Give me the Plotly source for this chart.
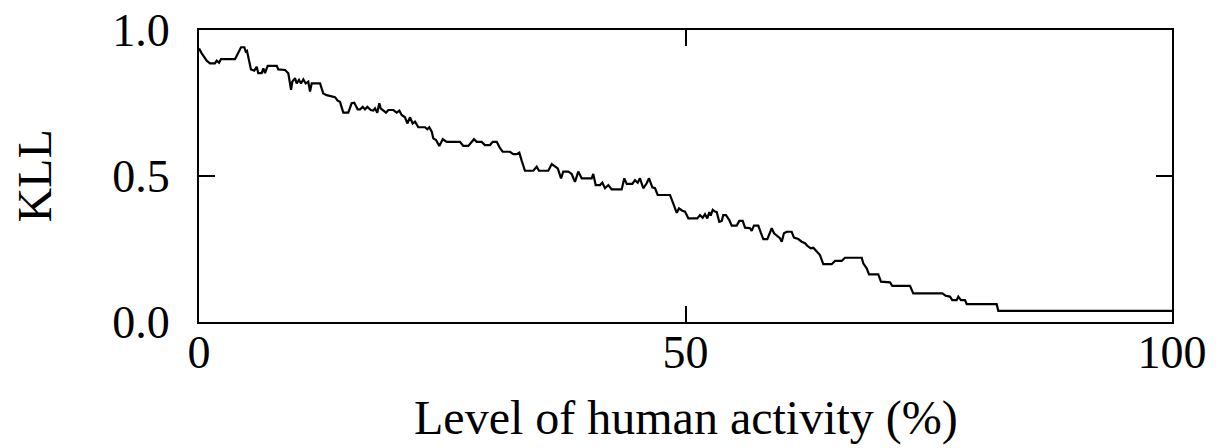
import plotly.graph_objects as go

# Level of human activity (%)
activity = [
    0.00, 0.28, 0.79, 1.13, 1.64, 1.82, 2.06, 2.26, 3.70, 4.04, 4.32, 4.66, 4.80, 4.93, 5.14, 5.34,
    5.68, 5.93, 6.09, 6.44, 6.61, 6.78, 7.06, 7.99, 8.15, 8.84, 9.18, 9.46, 9.59, 9.87, 10.04, 10.28,
    10.48, 10.72, 10.97, 11.23, 11.41, 11.58, 12.44, 12.77, 13.12, 13.64, 13.98, 14.25, 14.49, 14.83,
    15.34, 15.69, 15.96, 16.31, 16.55, 16.82, 17.06, 17.30, 17.65, 17.91, 18.09, 18.32, 18.53, 18.67,
    18.94, 19.22, 19.46, 19.97, 20.32, 20.59, 20.83, 21.17, 21.41, 21.69, 21.96, 22.20, 22.54, 23.23,
    23.46, 23.67, 23.92, 24.08, 24.36, 24.70, 25.05, 25.46, 26.82, 27.16, 27.68, 28.03, 28.26, 28.54,
    29.05, 29.39, 29.91, 30.18, 30.60, 30.94, 31.21, 31.96, 32.30, 32.65, 32.92, 33.17, 33.40, 33.50,
    34.36, 34.71, 34.94, 35.90, 36.25, 36.59, 36.87, 37.21, 37.44, 37.96, 38.30, 38.64, 38.98, 39.33,
    40.36, 40.52, 40.77, 41.21, 41.45, 41.73, 42.07, 42.41, 43.44, 43.71, 43.96, 44.53, 44.81, 45.09,
    45.32, 45.66, 46.01, 46.25, 46.59, 46.87, 47.14, 48.41, 48.75, 48.92, 49.10, 49.33, 49.67, 49.95,
    50.29, 51.21, 51.49, 51.77, 52.00, 52.24, 52.45, 52.59, 52.80, 53.03, 53.21, 53.47, 53.72, 53.88,
    54.16, 54.50, 54.75, 55.26, 55.53, 55.88, 56.12, 56.63, 56.80, 57.04, 57.48, 57.73, 58.00, 58.41,
    58.86, 59.10, 59.43, 59.71, 59.89, 60.12, 60.40, 60.91, 61.15, 61.59, 61.94, 62.28, 62.52, 62.87,
    63.14, 63.48, 63.82, 64.16, 65.02, 65.37, 66.05, 66.39, 67.60, 68.11, 68.27, 68.62, 68.86, 69.81,
    70.09, 71.02, 71.25, 73.07, 73.41, 76.39, 76.74, 77.18, 77.42, 77.87, 78.04, 78.31, 78.73, 78.90,
    81.98, 82.15, 100.00,
]

# KLL
kll = [
    0.937, 0.920, 0.895, 0.886, 0.886, 0.895, 0.888, 0.900, 0.900, 0.926, 0.941, 0.941, 0.926, 0.929, 0.897, 0.865,
    0.861, 0.874, 0.852, 0.852, 0.869, 0.852, 0.877, 0.877, 0.865, 0.863, 0.852, 0.795, 0.823, 0.835, 0.817, 0.829,
    0.817, 0.831, 0.817, 0.823, 0.789, 0.817, 0.817, 0.783, 0.777, 0.774, 0.770, 0.758, 0.754, 0.717,
    0.717, 0.749, 0.751, 0.728, 0.728, 0.737, 0.728, 0.737, 0.726, 0.724, 0.732, 0.717, 0.749, 0.732,
    0.724, 0.717, 0.726, 0.726, 0.717, 0.724, 0.709, 0.701, 0.680, 0.701, 0.680, 0.686, 0.667, 0.667,
    0.660, 0.667, 0.652, 0.629, 0.623, 0.603, 0.626, 0.617, 0.617, 0.603, 0.603, 0.617, 0.626, 0.617,
    0.617, 0.606, 0.606, 0.617, 0.617, 0.595, 0.583, 0.583, 0.575, 0.575, 0.580, 0.552, 0.526, 0.518,
    0.518, 0.532, 0.518, 0.518, 0.541, 0.534, 0.526, 0.492, 0.515, 0.515, 0.507, 0.480, 0.515, 0.492,
    0.492, 0.507, 0.469, 0.469, 0.477, 0.458, 0.469, 0.454, 0.454, 0.492, 0.473, 0.473, 0.486, 0.477,
    0.492, 0.458, 0.475, 0.492, 0.461, 0.458, 0.435, 0.435, 0.401, 0.389, 0.374, 0.389, 0.381, 0.378,
    0.355, 0.355, 0.366, 0.357, 0.369, 0.355, 0.376, 0.364, 0.384, 0.378, 0.376, 0.343, 0.346, 0.366,
    0.366, 0.349, 0.330, 0.330, 0.346, 0.346, 0.323, 0.321, 0.312, 0.330, 0.330, 0.307, 0.284, 0.284,
    0.321, 0.304, 0.296, 0.287, 0.275, 0.304, 0.309, 0.309, 0.289, 0.284, 0.275, 0.270, 0.261, 0.252,
    0.254, 0.241, 0.229, 0.198, 0.198, 0.209, 0.209, 0.220, 0.220, 0.220, 0.201, 0.184, 0.163, 0.163,
    0.138, 0.136, 0.124, 0.124, 0.098, 0.098, 0.090, 0.087, 0.075, 0.075, 0.087, 0.075, 0.075, 0.061,
    0.061, 0.038, 0.038,
]

x_ticks = [0, 50, 100]
x_tick_labels = ["0", "50", "100"]
y_ticks = [0.0, 0.5, 1.0]
y_tick_labels = ["0.0", "0.5", "1.0"]

FONT = "Liberation Serif, Times New Roman, serif"

fig = go.Figure()
fig.add_trace(go.Scatter(
    x=activity, y=kll, mode="lines",
    line=dict(color="black", width=2.2),
    showlegend=False, hoverinfo="skip",
))

axis_common = dict(
    showgrid=False, zeroline=False, automargin=False,
    showline=True, linecolor="black", linewidth=2,
    mirror="ticks", ticks="inside", ticklen=16, tickwidth=1.5, tickcolor="black",
    tickfont=dict(family=FONT, size=46, color="black"),
    ticklabeloverflow="allow",
)

fig.update_layout(
    width=1223, height=448,
    margin=dict(l=199, r=51, t=30, b=126),
    paper_bgcolor="white", plot_bgcolor="white",
    font=dict(family=FONT, color="black"),
    xaxis=dict(
        range=[0, 100], tickvals=x_ticks, ticktext=x_tick_labels,
        ticklabelstandoff=-11,
        **axis_common,
    ),
    yaxis=dict(
        range=[0, 1.0], tickvals=y_ticks, ticktext=y_tick_labels,
        ticklabelstandoff=18,
        **axis_common,
    ),
    annotations=[
        dict(text="Level of human activity (%)", xref="paper", yref="paper",
             x=0.5, y=-0.33, xanchor="center", yanchor="middle", showarrow=False,
             font=dict(family=FONT, size=48, color="black")),
        dict(text="KLL", xref="paper", yref="paper", textangle=-90,
             x=-0.17, y=0.5, xanchor="center", yanchor="middle", showarrow=False,
             font=dict(family=FONT, size=48, color="black")),
    ],
)

fig.write_html(
    "out.html",
    config={"displayModeBar": False},
    post_script="document.body.style.margin='0';",
)
